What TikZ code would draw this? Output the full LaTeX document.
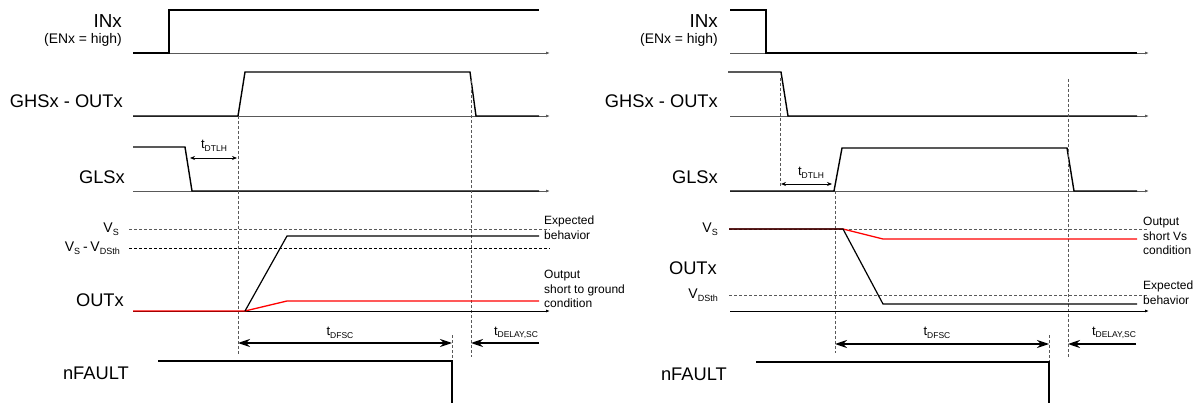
\documentclass[tikz,border=0pt]{standalone}
\usepackage{fontspec}
\setmainfont{Liberation Sans}
\usetikzlibrary{arrows.meta}
\newcommand\sbs[1]{\raisebox{-0.35ex}{\fontsize{8.5}{8.5}\selectfont #1}}
\newcommand\vsbs[1]{\raisebox{-0.35ex}{\fontsize{9}{9}\selectfont #1}}
\newcommand\tsub[1]{{\fontsize{13}{13}\selectfont t\sbs{#1}}}
\newcommand\vsub[1]{{\fontsize{14}{14}\selectfont V\vsbs{#1}}}
\tikzset{
  sig/.style={line width=1.4pt, black, line join=miter},
  axisline/.style={line width=0.8pt, black!65, -{Latex[length=4pt,width=3pt]}},
  oaxis/.style={line width=0.8pt, black, -{Latex[length=4pt,width=3pt]}},
  dsh/.style={line width=0.8pt, black!65, dash pattern=on 3pt off 2pt},
  bdsh/.style={line width=0.8pt, black, dash pattern=on 3pt off 2pt},
  redsig/.style={line width=1.3pt, red},
  outsig/.style={line width=1.2pt, black},
  bigarr/.style={line width=1.2pt, black},
  smallarr/.style={line width=0.8pt, black, {Stealth[length=5pt,width=4pt]}-{Stealth[length=5pt,width=4pt]}},
  lbl/.style={inner sep=0pt, anchor=east, font=\fontsize{18.3}{20}\selectfont},
  sublbl/.style={inner sep=0pt, anchor=east, font=\fontsize{13.9}{15}\selectfont},
  note/.style={inner sep=0pt, anchor=west, align=left, font=\fontsize{12}{14.5}\selectfont},
  tl/.style={inner sep=0pt}
}
\begin{document}
\begin{tikzpicture}[x=1pt,y=-1pt]
\useasboundingbox (0,0) rectangle (1202,403);
\def\BA{{Stealth[length=12pt,width=8pt]}}
% ================= LEFT PANEL =================
% labels
\node[lbl, font=\fontsize{18.8}{20}\selectfont] (linx) at (122,21) {INx};
\node[sublbl] (len) at (122,40) {(ENx = high)};
\node[lbl] (lghs) at (123,101) {GHSx - OUTx};
\node[lbl] (lgls) at (125,177) {GLSx};
\node[inner sep=0pt, anchor=east] (lvs) at (119,229) {\vsub{S}};
\node[inner sep=0pt, anchor=east] (lvsd) at (120,248) {\vsub{S} {\fontsize{14}{14}\selectfont -} \vsub{DSth}};
\node[lbl] (lout) at (124,300) {OUTx};
\node[lbl] (lnf) at (129,373) {nFAULT};
% INx
\draw[axisline] (133,53) -- (550,53);
\draw[sig] (133,53) -- (169,53) -- (169,10) -- (539,10);
% GHSx
\draw[axisline] (133,116) -- (550,116);
\draw[sig] (133,116) -- (238,116) -- (245,72) -- (470,72) -- (476,116) -- (539,116);
% GLSx
\draw[axisline] (133,191) -- (550,191);
\draw[sig] (133,147) -- (185,147) -- (192,191) -- (539,191);
% dashed verticals
\coordinate (la1) at (238,116); \coordinate (la2) at (238,355);
\coordinate (lb1) at (471,80); \coordinate (lb2) at (471,357);
\draw[dsh] (la1) -- (la2);
\draw[dsh] (lb1) -- (lb2);
% tDTLH
\coordinate (lt1) at (190,158); \coordinate (lt2) at (237,158);
\draw[smallarr] (lt1) -- (lt2);
\node[tl] (ltdtlh) at (214,146) {\tsub{DTLH}};
% OUTx levels
\draw[dsh] (129,229) -- (550,229);
\draw[bdsh] (129,248) -- (550,248);
\draw[oaxis] (133,311) -- (550,311);
\draw[redsig] (133,311) -- (245,311) -- (287,301) -- (539,301);
\draw[outsig] (245,311) -- (287,236) -- (539,236);
\node[note] (lexp) at (544,227.5) {Expected\\behavior};
\node[note] (lshort) at (544,289) {Output\\short to ground\\condition};
% tDFSC and tDELAY
\coordinate (lf1) at (238,343); \coordinate (lf2) at (452,343);
\draw[bigarr, \BA-\BA] (lf1) -- (lf2);
\node[tl] (ltdfsc) at (340,333) {\tsub{DFSC}};
\draw[dsh] (452,335) -- (452,361);
\coordinate (ld1) at (539,343); \coordinate (ld2) at (471,343);
\draw[bigarr, -\BA] (ld1) -- (ld2);
\node[tl] (ltdel) at (516,333) {\tsub{DELAY,SC}};
% nFAULT
\draw[sig] (158,361) -- (452,361) -- (452,403);
% ================= RIGHT PANEL =================
\node[lbl, font=\fontsize{18.8}{20}\selectfont] (rinx) at (718,21) {INx};
\node[sublbl] (ren) at (718,40) {(ENx = high)};
\node[lbl] (rghs) at (718,101) {GHSx - OUTx};
\node[lbl] (rgls) at (718,177) {GLSx};
\node[inner sep=0pt, anchor=east] (rvs) at (718,229) {\vsub{S}};
\node[lbl] (rout) at (717,268) {OUTx};
\node[inner sep=0pt, anchor=east] (rvd) at (718,295) {\vsub{DSth}};
\node[lbl] (rnf) at (727,374) {nFAULT};
% INx
\draw[axisline] (730,53) -- (1149,53);
\draw[sig] (730,10) -- (766,10) -- (766,53) -- (1137,53);
% GHSx
\draw[axisline] (730,116) -- (1149,116);
\draw[sig] (728,72) -- (781,72) -- (788,116) -- (1137,116);
% GLSx
\draw[axisline] (730,191) -- (1149,191);
\draw[sig] (730,191) -- (834,191) -- (842,148) -- (1067,148) -- (1074,191) -- (1137,191);
% dashed verticals
\draw[dsh] (780,78) -- (780,186);
\draw[dsh] (835,191) -- (835,353);
\draw[dsh] (1068,79) -- (1068,357);
% tDTLH
\coordinate (rt1) at (781,184); \coordinate (rt2) at (832,184);
\draw[smallarr] (rt1) -- (rt2);
\node[tl] (rtdtlh) at (811,173) {\tsub{DTLH}};
% OUTx levels
\draw[dsh] (729,229) -- (1149,229);
\draw[dsh] (729,295) -- (1149,295);
\draw[oaxis] (730,311) -- (1149,311);
\draw[redsig] (729,229) -- (843,229) -- (883,239) -- (1137,239);
\draw[outsig] (729,229) -- (843,229) -- (883,304) -- (1137,304);
\node[note] (rshort) at (1143,236) {Output\\short Vs\\condition};
\node[note] (rexp) at (1143,292.5) {Expected\\behavior};
% tDFSC and tDELAY
\coordinate (rf1) at (835,344); \coordinate (rf2) at (1049,344);
\draw[bigarr, \BA-\BA] (rf1) -- (rf2);
\node[tl] (rtdfsc) at (937,333) {\tsub{DFSC}};
\draw[dsh] (1049,335) -- (1049,362);
\coordinate (rd1) at (1136,344); \coordinate (rd2) at (1068,344);
\draw[bigarr, -\BA] (rd1) -- (rd2);
\node[tl] (rtdel) at (1114,333) {\tsub{DELAY,SC}};
% nFAULT
\draw[sig] (756,362) -- (1049,362) -- (1049,403);
\end{tikzpicture}
\end{document}
